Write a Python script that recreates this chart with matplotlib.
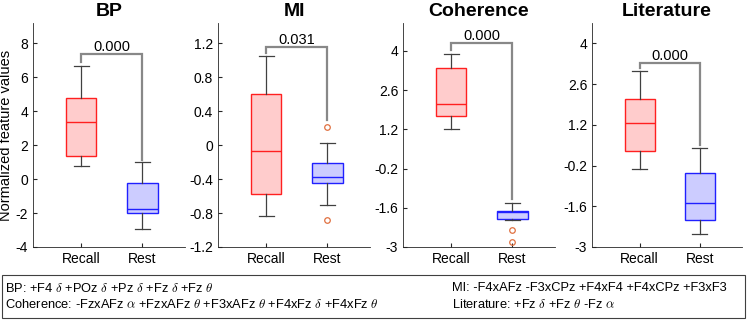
import matplotlib
matplotlib.use("Agg")
import matplotlib.pyplot as plt
from matplotlib.patches import Rectangle

plt.rcParams['font.family'] = ['Liberation Sans', 'DejaVu Sans']
plt.rcParams['mathtext.fontset'] = 'cm'

# box statistics: [Recall, Rest]
titles = ['BP', 'MI', 'Coherence', 'Literature']
groups = ['Recall', 'Rest']
whislo = [[0.78, -2.96], [-0.835, -0.706], [1.22, -2.05], [-0.32, -2.55]]
q1 = [[1.36, -2.0], [-0.576, -0.443], [1.685, -2.01], [0.284, -2.085]]
med = [[3.35, -1.75], [-0.063, -0.376], [2.10, -1.735], [1.256, -1.48]]
q3 = [[4.76, -0.22], [0.60, -0.21], [3.385, -1.725], [2.10, -0.46]]
whishi = [[6.67, 0.98], [1.05, 0.02], [3.88, -1.44], [3.04, 0.40]]
fliers = [[[], []], [[], [0.22, -0.878]], [[], [-2.405, -2.82]], [[], []]]
pvals = ['0.000', '0.031', '0.000', '0.000']
# bracket: bar height, left leg end, right leg end
bracket = [[7.35, 6.9, 1.14], [1.16, 1.09, 0.30], [4.28, 4.04, -1.29], [3.34, 3.14, 0.49]]
ylims = [(-4, 9.2), (-1.2, 1.44), (-3, 5.0), (-3, 4.7)]
yticks = [[-4, -2, 0, 2, 4, 6, 8],
          [-1.2, -0.8, -0.4, 0, 0.4, 0.8, 1.2],
          [-3, -1.6, -0.2, 1.2, 2.6, 4],
          [-3, -1.6, -0.2, 1.2, 2.6, 4]]
yticklabels = [['-4', '-2', '0', '2', '4', '6', '8'],
               ['-1.2', '-0.8', '-0.4', '0', '0.4', '0.8', '1.2'],
               ['-3', '-1.6', '-0.2', '1.2', '2.6', '4'],
               ['-3', '-1.6', '-0.2', '1.2', '2.6', '4']]
legend_left = [r'BP: +F4 $\delta$ +POz $\delta$ +Pz $\delta$ +Fz $\delta$ +Fz $\theta$',
               r'Coherence: -FzxAFz $\alpha$ +FzxAFz $\theta$ +F3xAFz $\theta$ +F4xFz $\delta$ +F4xFz $\theta$']
legend_right = [r'MI: -F4xAFz -F3xCPz +F4xF4 +F4xCPz +F3xF3',
                r'Literature: +Fz $\delta$ +Fz $\theta$ -Fz $\alpha$']

W, H = 747, 320
fig = plt.figure(figsize=(W / 100, H / 100), dpi=100)

ax_left = [33, 218, 403, 592]
ax_right = [185, 370, 555, 742]
top, bottom = 23, 247

face = ['#ffcccc', '#ccccff']
edge = ['#ff2020', '#2020ff']

for i in range(4):
    ax = fig.add_axes([ax_left[i] / W, (H - bottom) / H,
                       (ax_right[i] - ax_left[i]) / W, (bottom - top) / H])
    stats = []
    for j in range(2):
        stats.append(dict(whislo=whislo[i][j], q1=q1[i][j], med=med[i][j],
                          q3=q3[i][j], whishi=whishi[i][j], fliers=fliers[i][j]))
    bp = ax.bxp(stats, positions=[1, 2], widths=0.5, patch_artist=True,
                flierprops=dict(marker='o', markersize=4, markerfacecolor='none',
                                markeredgecolor='#e07040', markeredgewidth=0.9))
    for j in range(2):
        bp['boxes'][j].set_facecolor(face[j])
        bp['boxes'][j].set_edgecolor(edge[j])
        bp['boxes'][j].set_linewidth(1.0)
        bp['medians'][j].set_color(edge[j])
        bp['medians'][j].set_linewidth(1.0)
    for ln in bp['whiskers'] + bp['caps']:
        ln.set_color('#404040')
        ln.set_linewidth(0.9)

    h, l_end, r_end = bracket[i]
    ax.plot([1, 1, 2, 2], [l_end, h, h, r_end], color='#888888', lw=1.6,
            solid_joinstyle='miter')
    ax.text(1.5, h, pvals[i], ha='center', va='bottom', fontsize=10.5)

    ax.set_xlim(0.21, 2.7)
    ax.set_ylim(*ylims[i])
    ax.set_yticks(yticks[i])
    ax.set_yticklabels(yticklabels[i])
    ax.set_xticks([1, 2])
    ax.set_xticklabels(groups)
    ax.tick_params(direction='in', labelsize=10, color='#262626', length=3)
    for s in ['top', 'right']:
        ax.spines[s].set_visible(False)
    for s in ['left', 'bottom']:
        ax.spines[s].set_color('#262626')
        ax.spines[s].set_linewidth(0.6)
    ax.set_title(titles[i], fontsize=14, fontweight='bold', pad=5)
    if i == 0:
        ax.set_ylabel('Normalized feature values', fontsize=10.5, labelpad=2)

# description box at the bottom
fig.patches.append(Rectangle((2 / W, 2 / H), 743 / W, 43 / H, transform=fig.transFigure,
                             fill=False, edgecolor='#404040', lw=0.8))
for k in range(2):
    y = (H - (288 + 17 * k)) / H
    fig.text(5 / W, y, legend_left[k], fontsize=9.3, va='center', ha='left')
    fig.text(452 / W, y, legend_right[k], fontsize=9.3, va='center', ha='left')

fig.savefig('out.png', dpi=100)
